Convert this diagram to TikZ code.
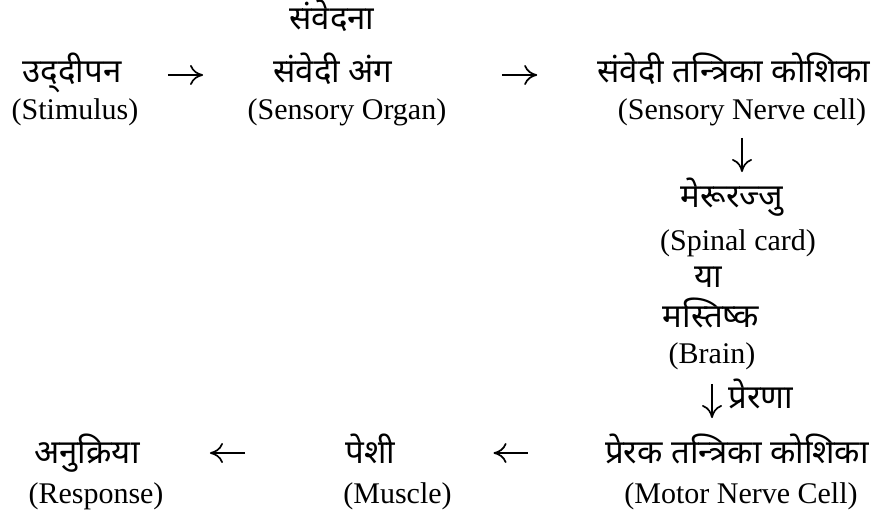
\documentclass[tikz,border=0pt]{standalone}
\usepackage{fontspec}
\setmainfont{Liberation Serif}
\newfontfamily\deva[Script=Devanagari]{Noto Sans}
\usetikzlibrary{arrows.meta,calc}

\begin{document}
\begin{tikzpicture}[
  x=.5pt, y=-.5pt,
  hi/.style={anchor=base, inner sep=0pt, font=\deva\fontsize{16.5}{19}\selectfont},
  en/.style={anchor=base, inner sep=0pt, font=\fontsize{15}{18}\selectfont},
  flow/.style={-{Computer Modern Rightarrow[length=6.5pt,width=10pt]}, line width=.85pt}
]
  \useasboundingbox (0,0) rectangle (881,518);
  \node[hi] (sense) at (332,30) {संवेदना};
  \node[hi] (stimHi) at (72,83) {उद्^^^^200cदीपन};
  \node[en] (stimEn) at (75,120) {(Stimulus)};
  \node[hi] (organHi) at (333,83) {संवेदी अंग};
  \node[en] (organEn) at (347,120) {(Sensory Organ)};
  \node[hi] (sncHi) at (734,83) {संवेदी तन्त्रिका कोशिका};
  \node[en] (sncEn) at (742,120) {(Sensory Nerve cell)};
  \node[hi] (spinalHi) at (732,207) {मेरूरज्जु};
  \node[en] (spinalEn) at (738,250) {(Spinal card)};
  \node[hi] (orHi) at (708,287) {या};
  \node[hi] (brainHi) at (711,327) {मस्तिष्क};
  \node[en] (brainEn) at (712,363) {(Brain)};
  \node[hi,anchor=base west] (motiv) at (728,408) {प्रेरणा};
  \node[hi] (motorHi) at (737,463) {प्रेरक तन्त्रिका कोशिका};
  \node[en] (motorEn) at (741,503) {(Motor Nerve Cell)};
  \node[hi,anchor=base west] (muscleHi) at (345,463) {पेशी};
  \node[en,anchor=base west] (muscleEn) at (343,503) {(Muscle)};
  \node[hi] (respHi) at (87,463) {अनुक्रिया};
  \node[en] (respEn) at (96,503) {(Response)};
  \draw[flow,shorten <=23pt,shorten >=35pt] ([yshift=4pt]stimHi.base east) -- ([yshift=4pt]organHi.base west);
  \draw[flow,shorten <=54.5pt,shorten >=30pt] ([yshift=4pt]organHi.base east) -- ([yshift=4pt]sncHi.base west);
  \draw[flow,shorten <=5.5pt,shorten >=2.5pt] (sncEn.south) -- (sncEn.south |- spinalHi.north);
  \draw[flow,shorten <=7pt,shorten >=7.5pt] (brainEn.south) -- (brainEn.south |- motorHi.north);
  \draw[flow,shorten <=38.5pt,shorten >=49pt] ([yshift=5pt]motorHi.base west) -- ([yshift=5pt]muscleHi.base east);
  \draw[flow,shorten <=50pt,shorten >=35pt] ([yshift=5pt]muscleHi.base west) -- ([yshift=5pt]respHi.base east);
\end{tikzpicture}
\end{document}
